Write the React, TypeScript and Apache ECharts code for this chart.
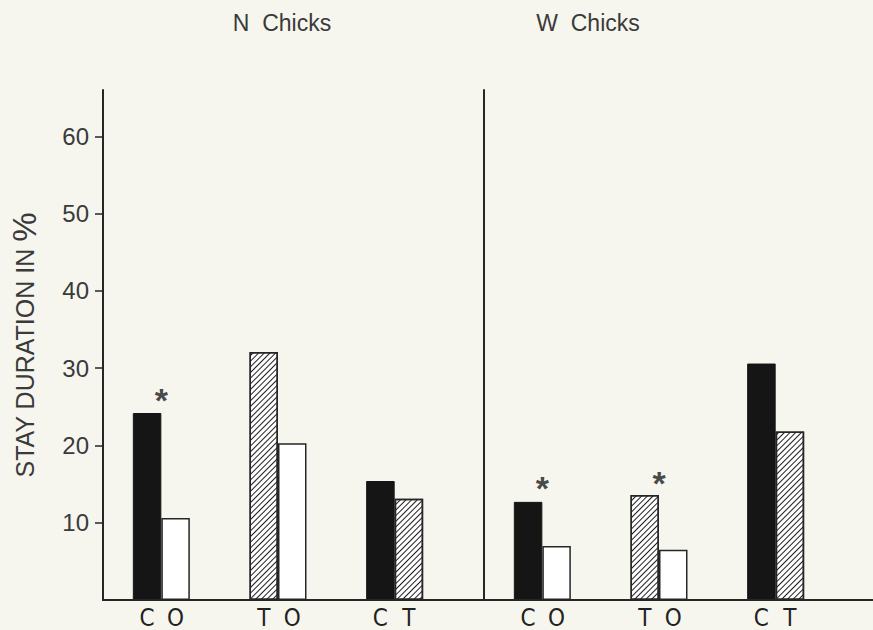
import React, { useEffect, useRef } from 'react';
import * as echarts from 'echarts';

// ---- data ----
const panelTitles = ['N  Chicks', 'W  Chicks'];
const categories = ['C O', 'T O', 'C T'];
const firstLetters = ['C', 'T', 'C'];
const secondLetters = ['O', 'O', 'T'];
const nFirst = [24.2, 32.1, 15.4];
const nSecond = [10.6, 20.3, 13.1];
const wFirst = [12.7, 13.6, 30.6];
const wSecond = [7.0, 6.5, 21.8];
const nStars: (number | string)[] = [26.6, '-', '-'];
const wStars: (number | string)[] = [15.3, 15.9, '-'];
const yTicks = [10, 20, 30, 40, 50, 60];
const yAxisName = 'STAY DURATION IN';

const INK = '#262626';
const TEXT = '#3a3a3a';
const BG = '#f6f6ee';
const SANS = "'Liberation Sans', Arial, Helvetica, sans-serif";
const NARROW = "'Liberation Sans Narrow', 'Arial Narrow', 'DejaVu Sans Condensed', sans-serif";

const hatch = {
  symbol: 'rect',
  symbolSize: 1,
  color: '#1e1e1e',
  backgroundColor: '#ffffff',
  dashArrayX: [1, 0],
  dashArrayY: [1, 2.2],
  rotation: -Math.PI / 4,
};

function styleFor(letter: string) {
  if (letter === 'C') return { color: '#151515', borderColor: '#151515', borderWidth: 1 };
  if (letter === 'T') return { color: '#ffffff', borderColor: INK, borderWidth: 1.5, decal: hatch };
  return { color: '#ffffff', borderColor: INK, borderWidth: 1.5 };
}

function barData(values: number[], letters: string[]) {
  return values.map((v, i) => ({
    value: v,
    itemStyle: styleFor(letters[i]),
    label: { formatter: letters[i] },
  }));
}

const barLabel = {
  show: true,
  position: 'bottom',
  distance: 8,
  fontFamily: NARROW,
  fontSize: 24,
  lineHeight: 19,
  color: '#222',
};

function barSeries(values: number[], letters: string[], idx: number) {
  return {
    type: 'bar',
    xAxisIndex: idx,
    yAxisIndex: idx,
    barWidth: 28.5,
    barGap: '0%',
    data: barData(values, letters),
    label: barLabel,
  };
}

function starSeries(values: (number | string)[], idx: number) {
  return {
    type: 'scatter',
    xAxisIndex: idx,
    yAxisIndex: idx,
    symbol: 'circle',
    symbolSize: 1,
    itemStyle: { color: 'rgba(0,0,0,0)' },
    data: values,
    label: {
      show: true,
      position: 'inside',
      formatter: '*',
      fontFamily: SANS,
      fontWeight: 'bold',
      fontSize: 34,
      color: '#1a1a1a',
      offset: [0, 6],
    },
    z: 5,
  };
}

export default function App() {
  const ref = useRef<HTMLDivElement>(null);
  useEffect(() => {
    document.body.style.background = BG;
    const chart = echarts.init(ref.current!, null, { renderer: 'svg' });
    const yMax = 66;
    const titleStyle = { fontFamily: SANS, fontSize: 23, fontWeight: 'normal', color: TEXT };
    chart.setOption({
      animation: false,
      backgroundColor: BG,
      title: [
        { text: panelTitles[0], left: 282, top: 11, textAlign: 'center', padding: 0, textStyle: titleStyle },
        { text: panelTitles[1], left: 588, top: 11, textAlign: 'center', padding: 0, textStyle: titleStyle },
      ],
      grid: [
        { left: 103, top: 90, width: 350, height: 510 },
        { left: 484, top: 90, width: 350, height: 510 },
      ],
      xAxis: [0, 1].map((i) => ({
        type: 'category',
        gridIndex: i,
        data: categories,
        axisLine: { show: false },
        axisTick: { show: false },
        axisLabel: { show: false },
        splitLine: { show: false },
      })),
      yAxis: [
        {
          type: 'value',
          gridIndex: 0,
          min: 0,
          max: yMax,
          axisLine: { show: true, lineStyle: { color: INK, width: 2 } },
          axisTick: { show: true, length: 8, customValues: yTicks, lineStyle: { color: INK, width: 1.5 } },
          axisLabel: { customValues: yTicks, fontFamily: SANS, fontSize: 24, color: TEXT, margin: 14 },
          splitLine: { show: false },
          name: `{a|${yAxisName} }{b|%}`,
          nameLocation: 'middle',
          nameGap: 62,
          nameTextStyle: {
            rich: {
              a: { fontFamily: SANS, fontSize: 25, color: TEXT },
              b: { fontFamily: SANS, fontSize: 33, color: TEXT },
            },
          },
        },
        {
          type: 'value',
          gridIndex: 1,
          min: 0,
          max: yMax,
          axisLine: { show: true, lineStyle: { color: INK, width: 2 } },
          axisTick: { show: false },
          axisLabel: { show: false },
          splitLine: { show: false },
        },
      ],
      graphic: [
        {
          type: 'line',
          shape: { x1: 102, y1: 600, x2: 873, y2: 600 },
          style: { stroke: INK, lineWidth: 2 },
          z: 10,
        },
      ],
      series: [
        barSeries(nFirst, firstLetters, 0),
        barSeries(nSecond, secondLetters, 0),
        starSeries(nStars, 0),
        barSeries(wFirst, firstLetters, 1),
        barSeries(wSecond, secondLetters, 1),
        starSeries(wStars, 1),
      ],
    });
    return () => chart.dispose();
  }, []);
  return (
    <div
      ref={ref}
      style={{ position: 'fixed', left: 0, top: 0, width: 873, height: 630 }}
    />
  );
}
